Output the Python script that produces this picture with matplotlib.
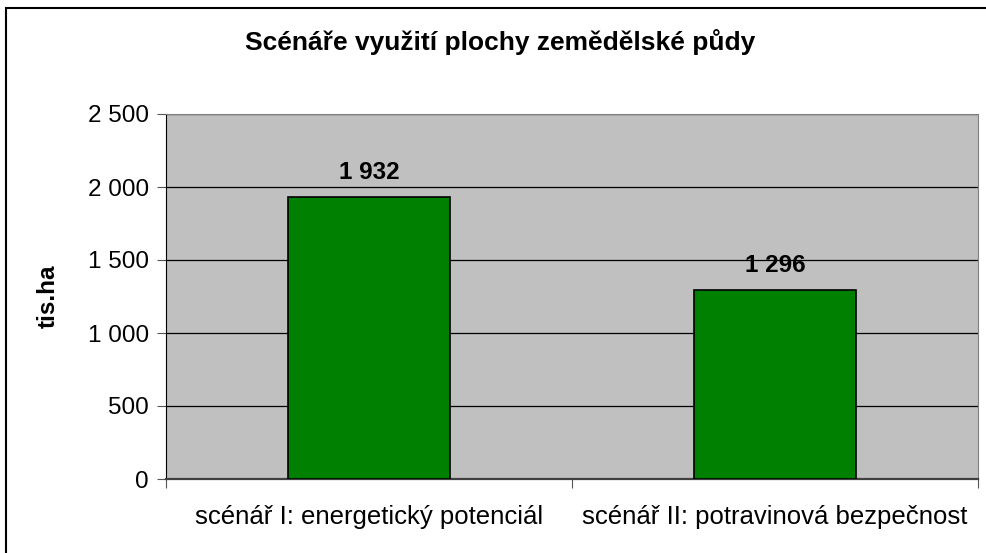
import matplotlib.pyplot as plt
from matplotlib.patches import Rectangle
from matplotlib.ticker import FuncFormatter

categories = ["scénář I: energetický potenciál", "scénář II: potravinová bezpečnost"]
values = [1932, 1296]
yticks = [0, 500, 1000, 1500, 2000, 2500]

plt.rcParams['font.family'] = ['Liberation Sans', 'DejaVu Sans']

fig = plt.figure(figsize=(9.86, 5.53), dpi=100)
ax = fig.add_axes([166 / 986, 1 - 479 / 553, (978 - 166) / 986, (479 - 114) / 553])

# outer frame of the chart area (cut off at right and bottom)
fig.patches.append(Rectangle((6 / 986, -0.05), 1.1, 1 - 8 / 553 + 0.05,
                             transform=fig.transFigure, fill=False,
                             edgecolor='black', linewidth=1.5))

ax.set_facecolor('#C0C0C0')
x = range(len(categories))
bars = ax.bar(x, values, width=0.4, color='#008000', edgecolor='black', linewidth=1.2, zorder=3)

ax.set_xlim(-0.5, len(categories) - 0.5)
ax.set_ylim(0, 2500)
ax.set_yticks(yticks)
ax.yaxis.set_major_formatter(FuncFormatter(lambda v, p: f"{int(v):,}".replace(",", " ")))
ax.grid(axis='y', color='black', linewidth=0.9, zorder=1)
ax.set_axisbelow(True)

ax.set_xticks([-0.5, 0.5, 1.5])
ax.set_xticklabels([])
ax.set_xticks(list(x), minor=True)
ax.set_xticklabels(categories, minor=True, fontsize=18.5)
ax.tick_params(axis='x', which='minor', length=0, pad=19)
ax.tick_params(axis='x', which='major', length=6.5, color='#555555')
ax.tick_params(axis='y', labelsize=17.5, length=6.5, pad=6, color='#555555')

for s in ['top', 'right']:
    ax.spines[s].set_color('#808080')
ax.spines['left'].set_color('black')
ax.spines['bottom'].set_color('#404040')
ax.spines['bottom'].set_linewidth(1.6)

for b, v in zip(bars, values):
    ax.annotate(f"{v:,}".replace(",", " "), (b.get_x() + b.get_width() / 2, v),
                xytext=(0, 9.5), textcoords='offset points', ha='center', va='bottom',
                fontsize=17.5, fontweight='bold')

ax.set_ylabel("tis.ha", fontsize=17.5, fontweight='bold')
ax.yaxis.set_label_coords((60 - 166) / 812, 0.5)
fig.text(500 / 986, 1 - 42 / 553, "Scénáře využití plochy zemědělské půdy", ha='center', va='center',
         fontsize=19, fontweight='bold')

fig.savefig("out.png", dpi=100)
